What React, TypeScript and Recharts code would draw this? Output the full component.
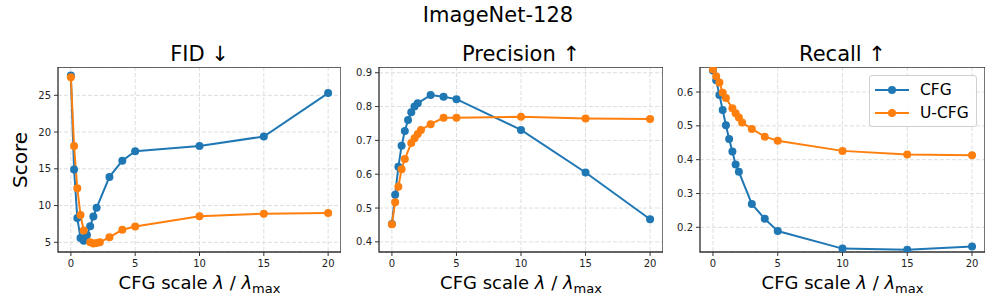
import {
  LineChart,
  Line,
  XAxis,
  YAxis,
  CartesianGrid,
  ReferenceArea,
} from "recharts";

const LAMBDA_CFG = [0, 0.25, 0.5, 0.75, 1, 1.25, 1.5, 1.75, 2, 3, 4, 5, 10, 15, 20];
const LAMBDA_UCFG = [0, 0.25, 0.5, 0.75, 1, 1.5, 1.75, 2, 2.25, 3, 4, 5, 10, 15, 20];

const FID_CFG = [27.7, 14.9, 8.3, 5.6, 5.2, 6.0, 7.2, 8.5, 9.7, 13.9, 16.1, 17.4, 18.1, 19.4, 25.3];
const FID_UCFG = [27.45, 18.1, 12.35, 8.7, 6.6, 5.0, 4.85, 4.9, 5.0, 5.7, 6.7, 7.15, 8.55, 8.9, 9.0];

const PREC_CFG = [0.453, 0.539, 0.622, 0.684, 0.728, 0.76, 0.783, 0.8, 0.81, 0.834, 0.829, 0.822, 0.731, 0.605, 0.467];
const PREC_UCFG = [0.452, 0.517, 0.563, 0.615, 0.645, 0.692, 0.706, 0.719, 0.731, 0.748, 0.767, 0.767, 0.77, 0.765, 0.763];

const RECALL_CFG = [0.664, 0.635, 0.591, 0.547, 0.502, 0.461, 0.424, 0.386, 0.364, 0.269, 0.225, 0.189, 0.137, 0.134, 0.143];
const RECALL_UCFG = [0.667, 0.647, 0.628, 0.598, 0.582, 0.552, 0.537, 0.525, 0.51, 0.491, 0.468, 0.456, 0.426, 0.415, 0.413];

const X_TICKS = [0, 5, 10, 15, 20];
const FID_TICKS = [5, 10, 15, 20, 25];
const PREC_TICKS = [0.4, 0.5, 0.6, 0.7, 0.8, 0.9];
const RECALL_TICKS = [0.2, 0.3, 0.4, 0.5, 0.6];

const BLUE = "#1f77b4";
const ORANGE = "#ff7f0e";
const FONT = "'DejaVu Sans', sans-serif";

const Y_AXIS_W = 40;
const X_AXIS_H = 30;
const PLOT_TOP = 67;
const PLOT_H = 185;

const toRows = (xs: number[], ys: number[]) => xs.map((x, i) => ({ x, y: ys[i] }));

// legend drawn as an overlay so the recall plot keeps its full height
function LegendBox({ left, top }: { left: number; top: number }) {
  const rows = [
    { label: "CFG", color: BLUE },
    { label: "U-CFG", color: ORANGE },
  ];
  return (
    <div
      style={{
        position: "absolute",
        left,
        top,
        width: 106,
        height: 50,
        border: "1px solid #d0d0d0",
        borderRadius: 3,
        background: "rgba(255,255,255,0.85)",
        fontFamily: FONT,
        fontSize: 15.5,
        color: "#000",
      }}
    >
      {rows.map((r, i) => (
        <div key={r.label} style={{ position: "absolute", left: 0, top: 4 + i * 23, height: 20, display: "flex", alignItems: "center" }}>
          <svg width={44} height={20} style={{ marginLeft: 4 }}>
            <line x1={1} x2={35} y1={10} y2={10} stroke={r.color} strokeWidth={2} />
            <circle cx={18} cy={10} r={4} fill={r.color} />
          </svg>
          <span style={{ marginLeft: 2 }}>{r.label}</span>
        </div>
      ))}
    </div>
  );
}

type PanelProps = {
  title: string;
  left: number;
  plotW: number;
  cfg: number[];
  ucfg: number[];
  domain: [number, number];
  ticks: number[];
};

function Panel({ title, left, plotW, cfg, ucfg, domain, ticks }: PanelProps) {
  const tickStyle = { fontFamily: FONT, fontSize: 10, fill: "#222" };
  return (
    <>
      <div
        style={{
          position: "absolute",
          left,
          width: plotW,
          top: 42,
          textAlign: "center",
          fontFamily: FONT,
          fontSize: 21,
          lineHeight: "24px",
        }}
      >
        {title}
      </div>
      <div
        style={{
          position: "absolute",
          left,
          width: plotW,
          top: 271,
          textAlign: "center",
          fontFamily: FONT,
          fontSize: 18,
          lineHeight: "24px",
          whiteSpace: "nowrap",
        }}
      >
        CFG scale <i>λ</i> / <i>λ</i>
        <span style={{ fontSize: 13, position: "relative", top: 4 }}>max</span>
      </div>
      <div style={{ position: "absolute", left: left - Y_AXIS_W, top: PLOT_TOP }}>
        <LineChart
          width={Y_AXIS_W + plotW}
          height={PLOT_H + X_AXIS_H}
          margin={{ top: 0, right: 0, bottom: 0, left: 0 }}
        >
          <CartesianGrid stroke="#dedede" strokeDasharray="4 2" />
          <XAxis
            type="number"
            dataKey="x"
            domain={[-1, 21]}
            ticks={X_TICKS}
            allowDataOverflow
            height={X_AXIS_H}
            axisLine={false}
            tickLine={{ stroke: "#333" }}
            tickSize={4}
            tickMargin={4}
            tick={tickStyle}
          />
          <YAxis
            type="number"
            dataKey="y"
            domain={domain}
            ticks={ticks}
            allowDataOverflow
            width={Y_AXIS_W}
            axisLine={false}
            tickLine={{ stroke: "#333" }}
            tickSize={4}
            tickMargin={3}
            tick={tickStyle}
          />
          <ReferenceArea
            x1={-1}
            x2={21}
            y1={domain[0]}
            y2={domain[1]}
            fill="none"
            stroke="#333"
            strokeWidth={1.3}
          />
          <Line
            data={toRows(LAMBDA_CFG, cfg)}
            dataKey="y"
            name="CFG"
            stroke={BLUE}
            strokeWidth={2}
            dot={{ r: 4, fill: BLUE, stroke: BLUE, strokeWidth: 0 }}
            activeDot={false}
            isAnimationActive={false}
          />
          <Line
            data={toRows(LAMBDA_UCFG, ucfg)}
            dataKey="y"
            name="U-CFG"
            stroke={ORANGE}
            strokeWidth={2}
            dot={{ r: 4, fill: ORANGE, stroke: ORANGE, strokeWidth: 0 }}
            activeDot={false}
            isAnimationActive={false}
          />
        </LineChart>
      </div>
    </>
  );
}

export default function App() {
  return (
    <div
      style={{
        position: "absolute",
        left: 0,
        top: 0,
        width: 996,
        height: 307,
        background: "#fff",
        fontFamily: FONT,
        color: "#000",
      }}
    >
      <div
        style={{
          position: "absolute",
          left: 0,
          width: 996,
          top: 3,
          textAlign: "center",
          fontSize: 21,
          lineHeight: "24px",
        }}
      >
        ImageNet-128
      </div>
      <div
        style={{
          position: "absolute",
          left: 20,
          top: 160,
          transform: "translate(-50%, -50%) rotate(-90deg)",
          fontSize: 20,
          lineHeight: "24px",
          whiteSpace: "nowrap",
        }}
      >
        Score
      </div>
      <Panel title="FID ↓" left={58} plotW={283} cfg={FID_CFG} ucfg={FID_UCFG} domain={[3.68, 28.85]} ticks={FID_TICKS} />
      <Panel title="Precision ↑" left={379} plotW={284} cfg={PREC_CFG} ucfg={PREC_UCFG} domain={[0.37, 0.917]} ticks={PREC_TICKS} />
      <Panel title="Recall ↑" left={700} plotW={285} cfg={RECALL_CFG} ucfg={RECALL_UCFG} domain={[0.127, 0.674]} ticks={RECALL_TICKS} />
      <LegendBox left={869} top={75} />
    </div>
  );
}
